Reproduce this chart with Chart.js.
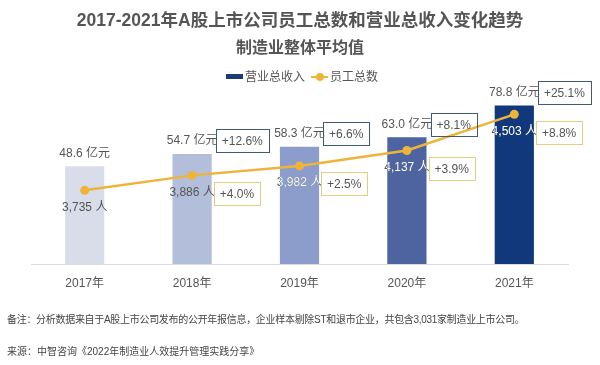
<!DOCTYPE html>
<html>
<head>
<meta charset="utf-8">
<script src="https://cdn.jsdelivr.net/npm/chart.js@4"></script>
<style>
  body { margin: 0; background: #fff; }
  #wrap { position: relative; width: 600px; height: 365px; font-family: "Liberation Sans", "Noto Sans CJK SC", sans-serif; color: #555; }
  canvas { position: absolute; left: 0; top: 0; }
  .t1 { position: absolute; left: 0; width: 600px; top: 9px; text-align: center; font-size: 17.5px; font-weight: bold; line-height: 22px; }
  .t2 { position: absolute; left: 0; width: 600px; top: 37px; text-align: center; font-size: 16px; font-weight: bold; line-height: 22px; }
  .legend { position: absolute; top: 68px; left: 226px; font-size: 12px; line-height: 16px; white-space: nowrap; }
  .legend span { display: inline-block; vertical-align: middle; }
  .sw-bar { width: 17px; height: 5px; background: #1b3c78; margin-right: 2px; }
  .sw-line { position: relative; width: 17px; height: 2px; background: #eeb43a; margin: 0 2px 0 6px; }
  .sw-line i { position: absolute; left: 5px; top: -3px; width: 8px; height: 8px; border-radius: 50%; background: #eeb43a; }
  .note { position: absolute; left: 7px; font-size: 10px; line-height: 14px; color: #444; white-space: nowrap; }
</style>
</head>
<body>
<div id="wrap">
  <canvas id="chart" width="600" height="365"></canvas>
  <div class="t1">2017-2021年A股上市公司员工总数和营业总收入变化趋势</div>
  <div class="t2">制造业整体平均值</div>
  <div class="legend"><span class="sw-bar"></span><span>营业总收入</span><span class="sw-line"><i></i></span><span>员工总数</span></div>
  <div class="note" style="top:313px; letter-spacing:-0.3px">备注：分析数据来自于A股上市公司发布的公开年报信息，企业样本剔除ST和退市企业，共包含3,031家制造业上市公司。</div>
  <div class="note" style="top:345px">来源：中智咨询《2022年制造业人效提升管理实践分享》</div>
</div>
<script>
const years = ['2017年', '2018年', '2019年', '2020年', '2021年'];
const revenue = [48.6, 54.7, 58.3, 63.0, 78.8];
const staff = [3735, 3886, 3982, 4137, 4503];
const revenueGrowth = [null, '+12.6%', '+6.6%', '+8.1%', '+25.1%'];
const staffGrowth = [null, '+4.0%', '+2.5%', '+3.9%', '+8.8%'];

const barColors = ['#d8dde9', '#b3bedb', '#8c9dcb', '#4d64a0', '#10387a'];
const FONT = '12px "Liberation Sans", "Noto Sans CJK SC", sans-serif';

function drawBox(ctx, text, x, cy, color) {
  const w = ctx.measureText(text).width + 12;
  ctx.strokeStyle = color;
  ctx.lineWidth = 1;
  ctx.strokeRect(Math.round(x) + 0.5, Math.round(cy - 11.5) + 0.5, Math.round(w), 23);
  ctx.fillStyle = '#555';
  ctx.textAlign = 'left';
  ctx.fillText(text, x + 6, cy + 1);
}

// value labels and growth boxes
const labelPlugin = {
  id: 'labels',
  afterDatasetsDraw(chart) {
    const ctx = chart.ctx;
    const bars = chart.getDatasetMeta(0).data;
    const pts = chart.getDatasetMeta(1).data;
    ctx.save();
    ctx.font = FONT;
    ctx.textBaseline = 'middle';
    bars.forEach((b, i) => {
      const right = b.x + b.width / 2;
      const ly = b.y - 13;
      ctx.fillStyle = '#555';
      ctx.textAlign = 'center';
      ctx.fillText(revenue[i].toFixed(1) + ' 亿元', b.x, ly);
      if (revenueGrowth[i]) drawBox(ctx, revenueGrowth[i], right + 4, ly, '#3d5a78');

      const p = pts[i];
      const sy = p.y + 17;
      const txt = staff[i].toLocaleString('en-US') + ' 人';
      ctx.textAlign = 'center';
      ctx.fillStyle = '#555';
      ctx.fillText(txt, p.x, sy);
      if (i >= 2) {
        ctx.save();
        ctx.beginPath();
        ctx.rect(b.x - b.width / 2, b.y, b.width, b.base - b.y);
        ctx.clip();
        ctx.fillStyle = '#fff';
        ctx.fillText(txt, p.x, sy);
        ctx.restore();
      }
      if (staffGrowth[i]) drawBox(ctx, staffGrowth[i], right + 2, p.y + 18, '#e6cd80');
    });
    ctx.restore();
  }
};

new Chart(document.getElementById('chart'), {
  type: 'bar',
  data: {
    labels: years,
    datasets: [{
      type: 'bar',
      label: '营业总收入',
      data: revenue,
      backgroundColor: barColors,
      barPercentage: 0.365,
      categoryPercentage: 1,
      yAxisID: 'y',
      order: 1
    }, {
      type: 'line',
      label: '员工总数',
      data: staff,
      borderColor: '#eeb43a',
      backgroundColor: '#eeb43a',
      borderWidth: 2.5,
      pointRadius: 4.5,
      pointBorderWidth: 0,
      tension: 0,
      yAxisID: 'y2',
      order: 0
    }]
  },
  options: {
    responsive: false,
    animation: false,
    layout: { padding: { top: 83, left: 31, right: 32, bottom: 0 } },
    plugins: {
      legend: { display: false },
      title: { display: false },
      tooltip: { enabled: false }
    },
    scales: {
      x: {
        grid: { display: false, drawTicks: false },
        border: { color: '#dcdcdc', width: 1 },
        ticks: { color: '#555', font: { size: 12, family: '"Liberation Sans", "Noto Sans CJK SC", sans-serif' }, padding: 12 },
        afterFit(scale) { scale.height = 101; }
      },
      y: { display: false, min: 0, max: 90 },
      y2: { display: false, min: 2990, max: 4820 }
    }
  },
  plugins: [labelPlugin]
});
</script>
</body>
</html>
